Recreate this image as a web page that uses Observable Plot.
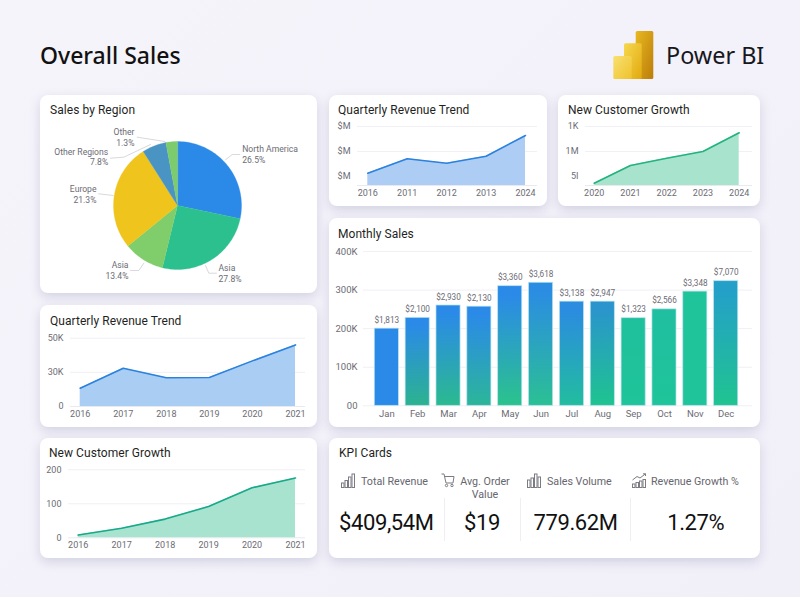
<!DOCTYPE html>
<html>
<head>
<meta charset="utf-8">
<script src="https://cdn.jsdelivr.net/npm/d3@7"></script>
<script src="https://cdn.jsdelivr.net/npm/@observablehq/plot@0.6"></script>
<style>
  html,body{margin:0;padding:0;background:#f3f2fa;}
  #page{position:relative;width:800px;height:597px;overflow:hidden;font-family:Roboto,sans-serif;color:#1d1d22;
    background:linear-gradient(135deg,#f5f4fb,#f1f0f9);}
  .card{position:absolute;background:#fff;border-radius:8px;box-shadow:0 4px 11px rgba(80,80,130,.2);}
  .card svg.plot{position:absolute;left:0;top:0;}
  .ttl{position:absolute;font-size:12px;line-height:14px;white-space:nowrap;color:#1f1f24;letter-spacing:.05px;}
  .h1{position:absolute;left:40px;top:39px;font:500 23px/32px "Noto Sans",sans-serif;color:#111;white-space:nowrap;}
  .pb{position:absolute;left:666px;top:38px;font:400 23.4px/34px "Noto Sans",sans-serif;color:#17171c;white-space:nowrap;}
  .kl{position:absolute;font-size:10.7px;line-height:13px;color:#66666e;white-space:nowrap;}
  .kv{position:absolute;font-size:22px;letter-spacing:-.4px;line-height:28px;color:#111;white-space:nowrap;transform:translateX(-50%);}
  .dv{position:absolute;width:1px;background:#efeff3;}
  .ic{position:absolute;overflow:visible;fill:none;stroke:#7b7b82;stroke-width:1;}
</style>
</head>
<body>
<div id="page"></div>
<script>
// ---------- data ----------
const pieNames = ["North America", "Asia", "Asia", "Europe", "Other Regions", "Other"];
const pieLabels = ["26.5%", "27.8%", "13.4%", "21.3%", "7.8%", "1.3%"];
const pieSweep = [28.3, 25.5, 10.3, 26.9, 6.1, 2.9]; // drawn share of the circle, as pictured
const pieColors = ["#2b8ae8", "#2cc08f", "#80cd6b", "#efc41c", "#4a94c4", "#7ccb6c"];

const topRevYears = ["2016", "2011", "2012", "2013", "2024"];
const topRevValues = [1.13, 1.71, 1.53, 1.81, 2.64];
const topRevTicks = [1, 2, 3];
const topRevTickLabels = ["$M", "$M", "$M"];

const topCustYears = ["2020", "2021", "2022", "2023", "2024"];
const topCustValues = [0.73, 1.44, 1.73, 2.0, 2.75];
const topCustTicks = [1, 2, 3];
const topCustTickLabels = ["5I", "1M", "1K"];

const months = ["Jan", "Feb", "Mar", "Apr", "May", "Jun", "Jul", "Aug", "Sep", "Oct", "Nov", "Dec"];
const monthlySales = [200, 228, 260, 257, 310, 319, 270, 270, 227, 250, 296, 323];
const monthlyLabels = ["$1,813", "$2,100", "$2,930", "$2,130", "$3,360", "$3,618", "$3,138", "$2,947", "$1,323", "$2,566", "$3,348", "$7,070"];
const monthlyTicks = [0, 100, 200, 300, 400];
const monthlyTickLabels = ["00", "100K", "200K", "300K", "400K"];
const barTop = ["#2b8ae8", "#2b8ae8", "#2b8ae8", "#2b8ae8", "#2b8ae8", "#2b8de2", "#2b8ce0", "#2a95cc", "#1fc09c", "#1fbfa0", "#1fc49a", "#24a0c8"];
const barBot = ["#2b8ae8", "#2cb38f", "#2bba8f", "#2cb699", "#2bc38c", "#2bc094", "#22bd9f", "#1fc490", "#1fc49a", "#1fc49a", "#1fc49a", "#20c490"];

const leftRevYears = ["2016", "2017", "2018", "2019", "2020", "2021"];
const leftRevValues = [13.4, 28, 21, 21.2, 33.4, 45.1];
const leftRevTicks = [0, 25, 50];
const leftRevTickLabels = ["0", "30K", "50K"];

const leftCustYears = ["2016", "2017", "2018", "2019", "2020", "2021"];
const leftCustValues = [8, 28, 55, 92, 147, 176];
const leftCustTicks = [0, 100, 200];
const leftCustTickLabels = ["0", "100", "200"];

const kpiTitles = ["Total Revenue", "Avg. Order\nValue", "Sales Volume", "Revenue Growth %"];
const kpiValues = ["$409,54M", "$19", "779.62M", "1.27%"];

// ---------- layout ----------
const page = document.getElementById("page");
const grey = "#6c6c74";
function el(cls, css, text, parent = page) {
  const d = document.createElement("div");
  d.className = cls;
  Object.assign(d.style, css);
  if (text != null) d.textContent = text;
  parent.appendChild(d);
  return d;
}
function card(x, y, w, h, title, tx, ty) {
  const c = el("card", {left: x + "px", top: y + "px", width: w + "px", height: h + "px"});
  el("ttl", {left: tx + "px", top: ty + "px"}, title, c);
  return c;
}
function place(c, plot) { plot.classList.add("plot"); c.appendChild(plot); }

function areaChart(c, o) {
  const data = o.labels.map((k, i) => ({k, v: o.values[i]}));
  const tickMap = new Map(o.ticks.map((t, i) => [t, o.tickLabels[i]]));
  place(c, Plot.plot({
    width: o.w, height: o.h,
    marginLeft: o.ml, marginRight: o.mr, marginTop: o.yTop, marginBottom: o.h - o.yBase,
    style: {background: "transparent", fontFamily: "Roboto", fontSize: "9px"},
    x: {type: "point", domain: o.labels, range: o.xr, padding: 0, round: false, axis: null},
    y: {domain: o.domain, range: [o.yBase, o.yTop], axis: null},
    marks: [
      Plot.ruleY(o.gridTicks, {stroke: "#f0f0f5", strokeWidth: 1}),
      Plot.ruleY([o.domain[0]], {stroke: "#e9eaf0", strokeWidth: 1}),
      Plot.areaY(data, {x: "k", y1: () => o.domain[0], y2: "v", fill: o.fill}),
      Plot.line(data, {x: "k", y: "v", stroke: o.stroke, strokeWidth: 1.6}),
      Plot.axisX({anchor: "bottom", tickSize: 0, tickPadding: o.xPad ?? 4, label: null, fontSize: 9, fill: grey}),
      Plot.axisY(o.ticks, {anchor: "left", tickSize: 0, tickPadding: o.yPad ?? 1, label: null, fontSize: 9, fill: grey,
        tickFormat: (t) => tickMap.get(t)})
    ]
  }));
}

// ---------- header ----------
el("h1", {}, "Overall Sales");
el("pb", {}, "Power BI");
const logo = document.createElementNS("http://www.w3.org/2000/svg", "svg");
logo.setAttribute("width", "44"); logo.setAttribute("height", "52");
logo.style.cssText = "position:absolute;left:612px;top:29px;";
logo.innerHTML = `<defs>
<linearGradient id="l1" x1="0" y1="0" x2="1" y2="1"><stop offset="0" stop-color="#f8e070"/><stop offset="1" stop-color="#efc22c"/></linearGradient>
<linearGradient id="l2" x1="0" y1="0" x2="1" y2="1"><stop offset="0" stop-color="#f6d84e"/><stop offset="1" stop-color="#e2a90f"/></linearGradient>
<linearGradient id="l3" x1="0" y1="0" x2="1" y2="1"><stop offset="0" stop-color="#e8b820"/><stop offset="1" stop-color="#bb7d0a"/></linearGradient></defs>
<rect x="23.7" y="2" width="17.6" height="48" rx="1.5" fill="url(#l3)"/>
<rect x="12" y="14.3" width="17.7" height="35.7" rx="1.5" fill="url(#l2)"/>
<rect x="1.3" y="27" width="18.4" height="23" rx="1.5" fill="url(#l1)"/>`;
page.appendChild(logo);

// ---------- pie ----------
const pieCard = card(40, 95, 277, 198, "Sales by Region", 10, 8);
{
  const cx = 137, cy = 110, r = 64;
  const arcs = d3.pie().sort(null).value((d) => d)(pieSweep);
  const pts = arcs.flatMap((a, i) => {
    const n = Math.max(4, Math.ceil((a.endAngle - a.startAngle) * 30));
    const ring = d3.range(n + 1).map((k) => {
      const t = a.startAngle + (a.endAngle - a.startAngle) * k / n;
      return {i, c: pieColors[i], x: cx + r * Math.sin(t), y: cy - r * Math.cos(t)};
    });
    return [{i, c: pieColors[i], x: cx, y: cy}, ...ring];
  });
  // label placement relative to the card; text comes from the data arrays
  const anchors = [
    {i: 0, x: 201.7, y: 49.5, a: "start"},
    {i: 1, x: 178, y: 168.5, a: "start"},
    {i: 2, x: 88, y: 165.5, a: "end"},
    {i: 3, x: 56, y: 89.5, a: "end"},
    {i: 4, x: 67.7, y: 52, a: "end"},
    {i: 5, x: 94, y: 32.5, a: "end"}
  ].map((d) => ({...d, t: pieNames[d.i] + "\n" + pieLabels[d.i]}));
  const leaders = [
    [[185, 64.3], [191.7, 59], [199.3, 59]],
    [[165, 170], [168.3, 177.7], [176, 177.7]],
    [[103.3, 167.7], [98.3, 175], [90, 175]],
    [[72.7, 100], [58, 98.3]],
    [[110, 49], [83.3, 61.7], [70, 62.7]],
    [[124.3, 46], [96.7, 41.7]]
  ].flatMap((l, i) => l.map(([x, y]) => ({i, x, y})));
  place(pieCard, Plot.plot({
    width: 277, height: 198, margin: 0,
    style: {background: "transparent", fontFamily: "Roboto", fontSize: "9px"},
    x: {domain: [0, 277], range: [0, 277], axis: null},
    y: {domain: [0, 198], range: [0, 198], axis: null},
    color: {type: "identity"},
    marks: [
      Plot.line(leaders, {x: "x", y: "y", z: "i", stroke: "#d9d9de", strokeWidth: 1}),
      Plot.line(pts, {x: "x", y: "y", z: "i", fill: "c", stroke: "c", strokeWidth: 0.3, curve: "linear-closed"}),
      Plot.text(anchors.filter((d) => d.a === "start"), {x: "x", y: "y", text: "t", textAnchor: "start", lineAnchor: "top", lineHeight: 1.2, fontSize: 8.6, fill: grey}),
      Plot.text(anchors.filter((d) => d.a === "end"), {x: "x", y: "y", text: "t", textAnchor: "end", lineAnchor: "top", lineHeight: 1.2, fontSize: 8.6, fill: grey})
    ]
  }));
}

// ---------- small area charts ----------
areaChart(card(329, 95, 218, 111, "Quarterly Revenue Trend", 9, 8), {
  w: 218, h: 111, ml: 28, mr: 10, yTop: 31, yBase: 90, xr: [38.3, 196],
  labels: topRevYears, values: topRevValues, ticks: topRevTicks, tickLabels: topRevTickLabels,
  gridTicks: [2, 3], domain: [0.64, 3], fill: "#aecdf4", stroke: "#2a82dd", yPad: 7
});
areaChart(card(558, 95, 202, 111, "New Customer Growth", 10, 8), {
  w: 202, h: 111, ml: 27, mr: 8, yTop: 31, yBase: 90, xr: [35.7, 180.7],
  labels: topCustYears, values: topCustValues, ticks: topCustTicks, tickLabels: topCustTickLabels,
  gridTicks: [2, 3], domain: [0.64, 3], fill: "#a8e3cd", stroke: "#22b37e", yPad: 7
});
areaChart(card(40, 305, 277, 122, "Quarterly Revenue Trend", 10, 9), {
  w: 277, h: 122, ml: 30, mr: 12, yTop: 32.7, yBase: 101, xr: [39.7, 255],
  labels: leftRevYears, values: leftRevValues, ticks: leftRevTicks, tickLabels: leftRevTickLabels,
  gridTicks: [25, 50], domain: [0, 50], fill: "#aacdf3", stroke: "#2a82dd", yPad: 7
});
areaChart(card(40, 438, 277, 120, "New Customer Growth", 9, 8), {
  w: 277, h: 120, ml: 28, mr: 12, yTop: 31.3, yBase: 99.3, xr: [37.7, 255],
  labels: leftCustYears, values: leftCustValues, ticks: leftCustTicks, tickLabels: leftCustTickLabels,
  gridTicks: [100, 200], domain: [0, 200], fill: "#a8e3d0", stroke: "#17a98a", yPad: 7
});

// ---------- monthly bars ----------
{
  const c = card(329, 218, 431, 209, "Monthly Sales", 9, 9);
  const data = months.map((m, i) => ({m, v: monthlySales[i], l: monthlyLabels[i], g: `url(#mg${i})`}));
  const tickMap = new Map(monthlyTicks.map((t, i) => [t, monthlyTickLabels[i]]));
  const defs = () => {
    const s = d3.create("svg:defs");
    months.forEach((m, i) => {
      const g = s.append("linearGradient").attr("id", "mg" + i).attr("x1", 0).attr("x2", 0).attr("y1", 0).attr("y2", 1);
      g.append("stop").attr("offset", "0.08").attr("stop-color", barTop[i]);
      g.append("stop").attr("offset", "1").attr("stop-color", barBot[i]);
    });
    return s.node();
  };
  place(c, Plot.plot({
    width: 431, height: 209, marginLeft: 34, marginRight: 8, marginTop: 33, marginBottom: 209 - 187.3,
    style: {background: "transparent", fontFamily: "Roboto", fontSize: "9.5px"},
    x: {type: "band", domain: months, range: [38.5, 415.5], padding: 0.22, round: false, axis: null},
    y: {domain: [0, 400], range: [187.3, 33], axis: null},
    marks: [
      defs,
      Plot.ruleY(monthlyTicks, {stroke: "#f0f0f5", strokeWidth: 1}),
      Plot.barY(data, {x: "m", y: "v", fill: (d) => d.g, stroke: "#b5e2ee", strokeWidth: 0.7}),
      Plot.text(data, {x: "m", y: "v", text: "l", dy: -8.5, fontSize: 8.2, fill: grey}),
      Plot.axisX({anchor: "bottom", tickSize: 0, tickPadding: 4, label: null, fontSize: 9.5, fill: grey}),
      Plot.axisY(monthlyTicks, {anchor: "left", tickSize: 0, tickPadding: 6, label: null, fontSize: 9.5, fill: grey, tickFormat: (t) => tickMap.get(t)})
    ],
    color: {type: "identity"}
  }));
}

// ---------- KPI ----------
{
  const c = card(329, 438, 431, 120, "KPI Cards", 10, 8);
  const svgIc = (x, y, w, h, inner) => {
    const s = document.createElementNS("http://www.w3.org/2000/svg", "svg");
    s.setAttribute("class", "ic"); s.setAttribute("width", w); s.setAttribute("height", h);
    s.style.left = x + "px"; s.style.top = y + "px"; s.innerHTML = inner; c.appendChild(s);
  };
  svgIc(11.5, 35, 14, 15, '<rect x=".5" y="10" width="2.5" height="4.5"/><rect x="4" y="7.5" width="2.5" height="7"/><rect x="7.5" y="4" width="2.5" height="10.5"/><rect x="11" y="1" width="2.5" height="13.5"/>');
  svgIc(112, 35, 14, 15, '<path d="M.5 1h2.5l2 9h7l1-6.5H3.5"/><circle cx="5.5" cy="12.5" r="1.2"/><circle cx="11" cy="12.5" r="1.2"/>');
  svgIc(198, 35, 14, 15, '<rect x=".5" y="7" width="2.5" height="7.5"/><rect x="4" y="5" width="2.5" height="9.5"/><rect x="7.5" y="1" width="2.5" height="13.5"/><rect x="11" y="4" width="2.5" height="10.5"/>');
  svgIc(302.5, 35, 14, 15, '<rect x=".5" y="11" width="2.5" height="3.5"/><rect x="4" y="9.5" width="2.5" height="5"/><rect x="7.5" y="8" width="2.5" height="6.5"/><rect x="11" y="6.5" width="2.5" height="8"/><path d="M.5 7 L5 3.5 L8 5 L13.5 .8 M11 .8h2.5v2.2"/>');
  const lx = [32, 0, 218, 322];
  el("kl", {left: lx[0] + "px", top: "36.5px"}, kpiTitles[0], c);
  el("kl", {left: "126px", width: "60px", textAlign: "center", top: "36.5px", whiteSpace: "pre-line"}, kpiTitles[1], c);
  el("kl", {left: lx[2] + "px", top: "36.5px"}, kpiTitles[2], c);
  el("kl", {left: lx[3] + "px", top: "36.5px"}, kpiTitles[3], c);
  [57.3, 153, 246.5, 366.7].forEach((x, i) => el("kv", {left: x + "px", top: "71px"}, kpiValues[i], c));
  [115, 191.3, 300.7].forEach((x) => el("dv", {left: x + "px", top: "60px", height: "43px"}, null, c));
}
</script>
</body>
</html>
